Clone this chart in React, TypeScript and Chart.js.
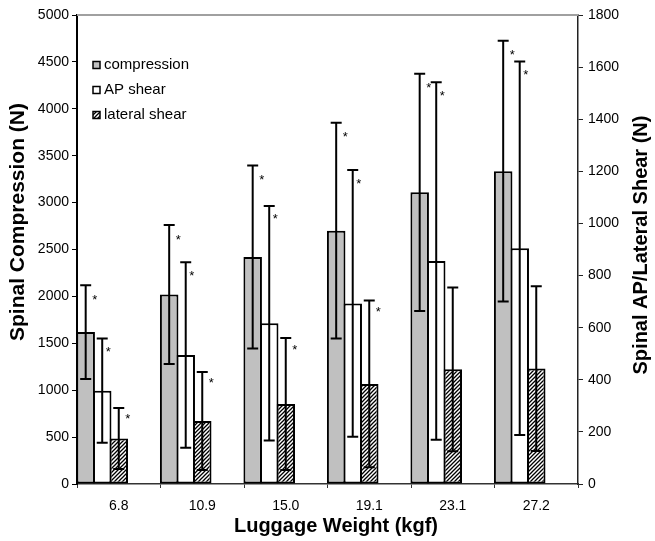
import React, { useEffect, useRef } from 'react';
import { Chart, registerables } from 'chart.js';

Chart.register(...registerables);

const categories = ['6.8', '10.9', '15.0', '19.1', '23.1', '27.2'];
const compression = [1620, 2020, 2420, 2700, 3110, 3335];
const compressionSD = [500, 740, 975, 1150, 1265, 1390];
const apShear = [358, 495, 617, 693, 856, 905];
const apShearSD = [200, 356, 450, 512, 686, 717];
const lateralShear = [175, 242, 307, 384, 440, 443];
const lateralShearSD = [117, 188, 253, 320, 314, 316];
const compressionStar = [true, true, true, true, true, true];
const apShearStar = [true, true, true, true, true, true];
const lateralShearStar = [true, true, true, true, false, false];
const seriesNames = ['compression', 'AP shear', 'lateral shear'];

const FONT = '"Liberation Sans", Arial, Helvetica, sans-serif';

function makeHatch(): CanvasPattern | string {
  const pc = document.createElement('canvas');
  pc.width = 4;
  pc.height = 4;
  const p = pc.getContext('2d');
  if (!p) return '#888';
  p.fillStyle = '#fff';
  p.fillRect(0, 0, 4, 4);
  p.strokeStyle = '#000';
  p.lineWidth = 1.3;
  p.beginPath();
  p.moveTo(0, 4);
  p.lineTo(4, 0);
  p.moveTo(-1, 1);
  p.lineTo(1, -1);
  p.moveTo(3, 5);
  p.lineTo(5, 3);
  p.stroke();
  const pat = p.createPattern(pc, 'repeat');
  return pat || '#888';
}

export default function App() {
  const ref = useRef<HTMLCanvasElement | null>(null);

  useEffect(() => {
    const canvas = ref.current;
    if (!canvas) return;
    const hatch = makeHatch();
    const fills: any[] = ['#c0c0c0', '#ffffff', hatch];

    const series = [
      { vals: compression, sd: compressionSD, star: compressionStar, axis: 'y', dx: 9, dy: 11 },
      { vals: apShear, sd: apShearSD, star: apShearStar, axis: 'y1', dx: 6, dy: 10 },
      { vals: lateralShear, sd: lateralShearSD, star: lateralShearStar, axis: 'y1', dx: 9, dy: 8 },
    ];

    const overlay = {
      id: 'overlay',
      afterDatasetsDraw(chart: any) {
        const ctx = chart.ctx;
        series.forEach((s, di) => {
          const meta = chart.getDatasetMeta(di);
          const scale = chart.scales[s.axis];
          meta.data.forEach((el: any, i: number) => {
            const x = el.x;
            const top = scale.getPixelForValue(s.vals[i] + s.sd[i]);
            const bot = scale.getPixelForValue(Math.max(0, s.vals[i] - s.sd[i]));
            ctx.save();
            ctx.strokeStyle = '#000';
            ctx.lineWidth = 2;
            ctx.beginPath();
            ctx.moveTo(x, top);
            ctx.lineTo(x, bot);
            ctx.moveTo(x - 5.5, top);
            ctx.lineTo(x + 5.5, top);
            ctx.moveTo(x - 5.5, bot);
            ctx.lineTo(x + 5.5, bot);
            ctx.stroke();
            if (s.star[i]) {
              ctx.font = `13px ${FONT}`;
              ctx.fillStyle = '#000';
              ctx.textAlign = 'center';
              ctx.textBaseline = 'alphabetic';
              ctx.fillText('*', x + s.dx, top + s.dy + 7.5);
            }
            ctx.restore();
          });
        });
      },
      afterDraw(chart: any) {
        const ctx = chart.ctx;
        const a = chart.chartArea;
        ctx.save();
        // top border
        ctx.strokeStyle = '#a0a0a0';
        ctx.lineWidth = 2;
        ctx.beginPath();
        ctx.moveTo(a.left, a.top);
        ctx.lineTo(a.right, a.top);
        ctx.stroke();

        // legend
        const rows = [65, 90, 115];
        rows.forEach((y, i) => {
          ctx.fillStyle = fills[i];
          ctx.fillRect(93, y - 3.5, 7, 7);
          ctx.strokeStyle = '#000';
          ctx.lineWidth = 1.5;
          ctx.strokeRect(93, y - 3.5, 7, 7);
          ctx.fillStyle = '#000';
          ctx.font = `15px ${FONT}`;
          ctx.textAlign = 'left';
          ctx.textBaseline = 'middle';
          ctx.fillText(seriesNames[i], 104, y);
        });

        // axis titles
        ctx.fillStyle = '#000';
        ctx.font = `bold 20px ${FONT}`;
        ctx.textAlign = 'center';
        ctx.textBaseline = 'middle';
        ctx.fillText('Luggage Weight (kgf)', 336, 526);

        ctx.save();
        ctx.font = `bold 21px ${FONT}`;
        ctx.translate(18, 222);
        ctx.rotate(-Math.PI / 2);
        ctx.fillText('Spinal Compression (N)', 0, 0);
        ctx.restore();

        ctx.save();
        ctx.translate(641, 245);
        ctx.rotate(-Math.PI / 2);
        ctx.fillText('Spinal AP/Lateral Shear (N)', 0, 0);
        ctx.restore();

        ctx.restore();
      },
    };

    const mk = (label: string, data: (number | null)[], fill: any, axis: string) => ({
      label,
      data,
      yAxisID: axis,
      backgroundColor: fill,
      borderColor: '#000',
      borderWidth: 2,
      borderSkipped: false,
      barPercentage: 1.12,
      categoryPercentage: 0.99,
    });

    const empty = categories.map(() => null);

    const chart = new Chart(canvas, {
      type: 'bar',
      data: {
        labels: categories,
        datasets: [
          mk(seriesNames[0], compression, fills[0], 'y'),
          mk(seriesNames[1], apShear, fills[1], 'y1'),
          mk(seriesNames[2], lateralShear, fills[2], 'y1'),
          mk('', empty, 'transparent', 'y1'),
          mk('', empty, 'transparent', 'y1'),
        ] as any,
      },
      options: {
        responsive: false,
        animation: false,
        layout: { padding: { top: 15, left: 0, right: 0, bottom: 0 } },
        plugins: {
          legend: { display: false },
          tooltip: { enabled: false },
        },
        scales: {
          x: {
            afterFit: (s: any) => {
              s.height = 57;
            },
            grid: {
              display: true,
              drawOnChartArea: false,
              drawTicks: true,
              tickLength: 4,
              color: '#333',
              offset: true,
            },
            border: { display: true, color: '#333', width: 1.5 },
            ticks: {
              color: '#000',
              font: { family: FONT, size: 14 },
              padding: 10,
              maxRotation: 0,
            },
          },
          y: {
            position: 'left',
            min: 0,
            max: 5000,
            afterFit: (s: any) => {
              s.width = 77;
            },
            grid: {
              drawOnChartArea: false,
              drawTicks: true,
              tickLength: 5,
              color: '#000',
            },
            border: { display: true, color: '#000', width: 2 },
            ticks: {
              stepSize: 500,
              color: '#000',
              padding: 3,
              font: { family: FONT, size: 14 },
              callback: (v: any) => String(v),
            },
          },
          y1: {
            position: 'right',
            min: 0,
            max: 1800,
            afterFit: (s: any) => {
              s.width = 77;
            },
            grid: {
              drawOnChartArea: false,
              drawTicks: true,
              tickLength: 5,
              color: '#222',
            },
            border: { display: true, color: '#222', width: 1.5 },
            ticks: {
              stepSize: 200,
              color: '#000',
              padding: 5,
              font: { family: FONT, size: 14 },
              callback: (v: any) => String(v),
            },
          },
        },
      } as any,
      plugins: [overlay],
    });

    return () => chart.destroy();
  }, []);

  return (
    <div style={{ position: 'absolute', left: 0, top: 0, width: 655, height: 541 }}>
      <canvas ref={ref} width={655} height={541} style={{ display: 'block' }} />
    </div>
  );
}
